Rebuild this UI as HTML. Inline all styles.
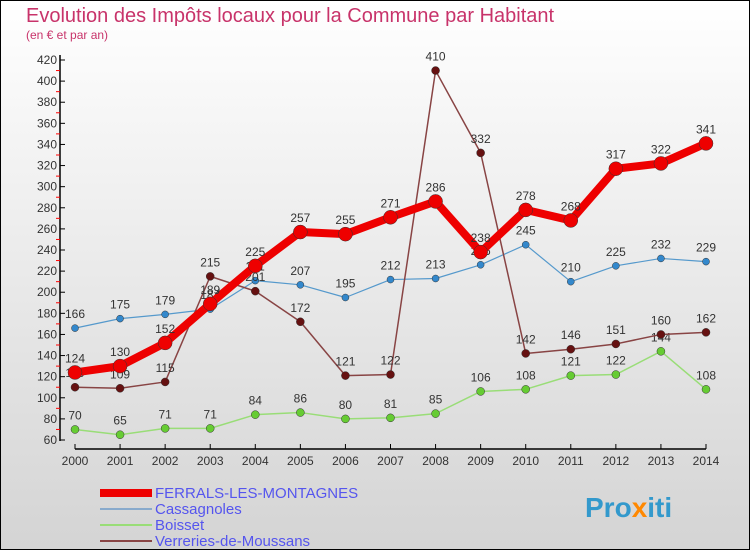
<!DOCTYPE html>
<html><head><meta charset="utf-8"><style>
body{margin:0;width:750px;height:550px;overflow:hidden;font-family:"Liberation Sans",sans-serif}
svg{display:block}
</style></head><body>
<svg id="c" width="750" height="550" xmlns="http://www.w3.org/2000/svg">
<defs><linearGradient id="bg" x1="0" y1="0" x2="0" y2="1"><stop offset="0" stop-color="#ffffff"/><stop offset="1" stop-color="#d4d4d4"/></linearGradient></defs>
<rect x="0.5" y="0.5" width="749" height="549" fill="url(#bg)" stroke="#000"/>
<text x="26" y="22" font-size="20" fill="#c8336a">Evolution des Impôts locaux pour la Commune par Habitant</text>
<text x="26" y="39" font-size="12" fill="#c8336a">(en € et par an)</text>
<g id="axes"></g><g id="series"></g><g id="legend"></g>
<text x="585" y="517" font-size="28" font-weight="bold" fill="#3399cc">Pro<tspan fill="#ff8800">x</tspan>iti</text>
</svg>
<script>
const years=[2000,2001,2002,2003,2004,2005,2006,2007,2008,2009,2010,2011,2012,2013,2014];
const yTicks=[60,80,100,120,140,160,180,200,220,240,260,280,300,320,340,360,380,400,420];
const ferrals=[124,130,152,189,225,257,255,271,286,238,278,268,317,322,341];
const cassagnoles=[166,175,179,184,211,207,195,212,213,226,245,210,225,232,229];
const boisset=[70,65,71,71,84,86,80,81,85,106,108,121,122,144,108];
const verreries=[110,109,115,215,201,172,121,122,410,332,142,146,151,160,162];
const NS="http://www.w3.org/2000/svg";
const xS=i=>75+i*(706-75)/14;
const yS=v=>440-(v-60)*380/360;
function mk(t,a,p){const e=document.createElementNS(NS,t);for(const k in a)e.setAttribute(k,a[k]);p.appendChild(e);return e;}
const ax=document.getElementById('axes');
let l=mk('line',{x1:60,y1:55,x2:60,y2:441,stroke:'#000','stroke-width':1.5},ax);


l=mk('line',{x1:75,y1:449,x2:706,y2:449,stroke:'#000','stroke-width':1.5},ax);


yTicks.forEach((v,i)=>{
 mk('line',{x1:60,y1:yS(v),x2:65,y2:yS(v),stroke:'#000'},ax);
 if(i<yTicks.length-1)mk('line',{x1:56,y1:yS(v+10),x2:60,y2:yS(v+10),stroke:'#f00'},ax);
 const t=mk('text',{x:57,y:yS(v)+4,'font-size':12,'text-anchor':'end',fill:'#333'},ax);
 t.textContent=v;
 
 
});
years.forEach((y,i)=>{
 mk('line',{x1:xS(i),y1:444,x2:xS(i),y2:449,stroke:'#000'},ax);
 const t=mk('text',{x:xS(i),y:465,'font-size':12,'text-anchor':'middle',fill:'#333'},ax);
 t.textContent=y;
 
 
});
const sg=document.getElementById('series');
function draw(vals,color,dot,w,r,name){
 const g=mk('g',{},sg);
 
 
 const p=mk('polyline',{points:vals.map((v,i)=>xS(i)+','+yS(v)).join(' '),fill:'none',stroke:color,'stroke-width':w,'stroke-linejoin':'round'},g);
 
 
 vals.forEach((v,i)=>{
  const c=mk('circle',{cx:xS(i),cy:yS(v),r:r,fill:dot,stroke:'#333','stroke-width':0.5},g);
  
  
  const t=mk('text',{x:xS(i),y:yS(v)-10,'font-size':12,'text-anchor':'middle',fill:'#333'},g);
  t.textContent=v;
  
  
 });
}
draw(boisset,'#99dd77','#66cc33',1.5,4,'boisset');
draw(cassagnoles,'#5599cc','#3388cc',1.2,3.5,'cassagnoles');
draw(verreries,'#884444','#661111',1.5,4,'verreries');
draw(ferrals,'#ee0000','#ee0000',8,7,'ferrals');
const lg=document.getElementById('legend');
const items=[['FERRALS-LES-MONTAGNES','#ee0000',8],['Cassagnoles','#88aacc',2],['Boisset','#99dd77',2],['Verreries-de-Moussans','#884444',2]];
items.forEach((it,i)=>{
 const y=493+i*16;
 const g=mk('g',{},lg);
 
 
 mk('line',{x1:100,y1:y,x2:152,y2:y,stroke:it[1],'stroke-width':it[2]},g);
 const t=mk('text',{x:155,y:y+5,'font-size':15,fill:'#5555ee'},g);
 t.textContent=it[0];
});
</script>
</body></html>
